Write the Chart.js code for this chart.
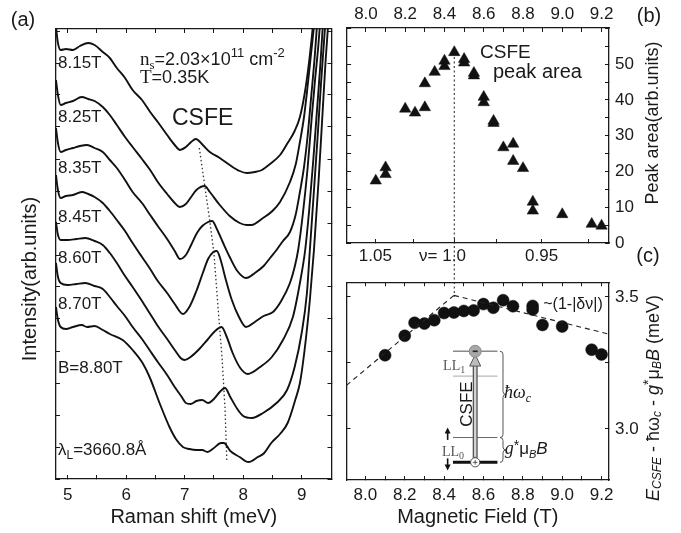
<!DOCTYPE html>
<html>
<head>
<meta charset="utf-8">
<script src="https://cdn.jsdelivr.net/npm/chart.js@4.4.1/dist/chart.umd.min.js"></script>
<style>
  body { margin: 0; background: #fff; }
  #wrap { position: relative; width: 681px; height: 533px; overflow: hidden; background: #fff; }
  canvas { position: absolute; }
  #cA { left: 0; top: 0; }
  #cB { left: 340px; top: 0; }
  #cC { left: 340px; top: 262px; }
</style>
</head>
<body>
<div id="wrap">
  <canvas id="cA" width="340" height="533"></canvas>
  <canvas id="cB" width="341" height="300"></canvas>
  <canvas id="cC" width="341" height="271"></canvas>
</div>
<script>
var FONT = "'Liberation Sans', Arial, sans-serif";
var SERIF = "'Liberation Serif', 'Times New Roman', serif";
var INK = '#1a1a1a';

// panel (a): Raman spectra, [Raman shift (meV), intensity (arb., offset)]
var fieldLabels = ['8.15T', '8.25T', '8.35T', '8.45T', '8.60T', '8.70T', 'B=8.80T'];
var spec815 = [[4.80,452],[4.83,437],[4.88,429],[4.97,430],[5.09,429],[5.21,433],[5.35,436],[5.46,434],[5.60,427],[5.72,421],[5.84,411],[5.98,401],[6.11,389],[6.27,379],[6.41,367],[6.54,357],[6.70,344],[6.83,334],[6.92,329],[7.02,332],[7.11,337],[7.19,340],[7.31,334],[7.43,327],[7.60,321],[7.77,314],[7.94,308],[8.06,306],[8.20,307],[8.32,309],[8.46,315],[8.63,324],[8.76,336],[8.88,348],[8.97,362],[9.05,385],[9.12,414],[9.17,440],[9.19,452]];
var spec825 = [[4.80,399],[4.83,385],[4.88,374],[4.97,376],[5.09,378],[5.24,382],[5.35,380],[5.46,378],[5.60,372],[5.72,364],[5.84,354],[5.98,342],[6.11,332],[6.27,320],[6.41,309],[6.54,297],[6.70,285],[6.83,276],[6.92,272],[7.02,275],[7.11,282],[7.20,289],[7.34,293],[7.43,287],[7.60,274],[7.77,263],[7.94,256],[8.06,254],[8.14,254],[8.34,261],[8.50,268],[8.63,277],[8.80,297],[8.90,315],[8.97,337],[9.04,362],[9.10,392],[9.16,425],[9.21,452]];
var spec835 = [[4.80,351],[4.83,337],[4.88,327],[4.97,329],[5.09,331],[5.21,333],[5.33,334],[5.46,331],[5.60,327],[5.72,319],[5.84,311],[5.98,299],[6.11,287],[6.27,276],[6.41,264],[6.54,253],[6.70,240],[6.83,228],[6.92,220],[7.02,224],[7.11,234],[7.21,246],[7.30,253],[7.40,257],[7.47,258],[7.55,250],[7.65,237],[7.77,222],[7.90,208],[8.05,201],[8.20,206],[8.35,213],[8.46,221],[8.57,229],[8.68,238],[8.80,247],[8.90,265],[8.97,287],[9.04,312],[9.10,342],[9.17,387],[9.22,420],[9.26,452]];
var spec845 = [[4.80,304],[4.83,290],[4.88,281],[4.97,283],[5.09,284],[5.24,287],[5.35,285],[5.46,282],[5.60,276],[5.72,268],[5.84,259],[5.98,248],[6.11,236],[6.27,222],[6.41,210],[6.54,198],[6.70,186],[6.83,175],[6.97,165],[7.08,172],[7.20,188],[7.31,206],[7.40,220],[7.49,227],[7.55,228],[7.62,218],[7.70,200],[7.80,180],[7.92,163],[8.05,152],[8.20,157],[8.35,163],[8.51,167],[8.65,178],[8.80,196],[8.88,212],[8.94,229],[9.02,265],[9.10,310],[9.17,360],[9.23,400],[9.28,430],[9.31,452]];
var spec860 = [[4.80,257],[4.83,245],[4.88,239],[5.00,239],[5.15,240],[5.30,241],[5.46,238],[5.60,234],[5.72,226],[5.84,216],[5.98,203],[6.11,192],[6.27,178],[6.41,165],[6.54,153],[6.70,140],[6.83,129],[6.93,121],[7.00,119],[7.10,122],[7.25,130],[7.40,140],[7.52,148],[7.63,152],[7.72,142],[7.82,126],[7.95,111],[8.08,105],[8.29,112],[8.49,122],[8.68,139],[8.85,162],[8.97,196],[9.06,229],[9.13,270],[9.20,320],[9.27,375],[9.32,415],[9.36,452]];
var spec870 = [[4.80,216],[4.83,203],[4.88,196],[5.00,194],[5.15,195],[5.30,196],[5.46,193],[5.60,190],[5.72,182],[5.84,173],[5.98,163],[6.11,152],[6.27,140],[6.41,128],[6.54,117],[6.70,104],[6.83,92],[6.95,82],[7.02,76],[7.10,75],[7.20,78],[7.30,79],[7.40,76],[7.50,80],[7.60,87],[7.69,91],[7.78,82],[7.90,70],[8.00,63],[8.15,61],[8.34,66],[8.57,76],[8.75,89],[8.88,112],[9.00,146],[9.09,186],[9.14,229],[9.20,280],[9.27,340],[9.33,395],[9.40,452]];
var spec880 = [[4.80,172],[4.83,160],[4.88,152],[4.97,150],[5.09,152],[5.24,154],[5.33,152],[5.46,153],[5.60,149],[5.72,145],[5.94,139],[6.11,129],[6.28,116],[6.40,102],[6.57,76],[6.74,52],[6.85,40],[6.97,32],[7.08,30],[7.20,29],[7.30,29],[7.39,27],[7.50,31],[7.62,36],[7.67,36],[7.78,28],[7.94,22],[8.09,17],[8.25,22],[8.36,26],[8.48,36],[8.63,45],[8.76,56],[8.89,79],[8.97,96],[9.05,129],[9.14,179],[9.21,229],[9.29,299],[9.36,369],[9.41,419],[9.45,452]];
var csfeTrack = [[7.25,331],[7.42,262],[7.50,226],[7.57,172],[7.64,120],[7.69,70],[7.72,19]];
var shiftTicks = [5, 5.5, 6, 6.5, 7, 7.5, 8, 8.5, 9];
var intensityTicks = [0, 32, 64, 96, 128, 160, 192, 224, 256, 288, 320, 352, 384, 416, 448];

// panel (b): CSFE peak area vs magnetic field
var fieldB = [8.05, 8.10, 8.10, 8.20, 8.25, 8.30, 8.30, 8.35, 8.40, 8.40, 8.45, 8.50, 8.50, 8.55, 8.55, 8.60, 8.60, 8.65, 8.65, 8.70, 8.75, 8.75, 8.80, 8.85, 8.85, 9.00, 9.15, 9.20];
var areaB = [17.4, 19.2, 21.1, 37.5, 36.4, 37.9, 44.6, 47.8, 49.4, 50.9, 53.3, 50.4, 51.4, 46.8, 47.5, 40.8, 39.3, 34.1, 33.5, 26.7, 27.7, 22.9, 20.9, 11.5, 9.0, 8.0, 5.3, 4.8];
var fieldTicks = [8.0, 8.1, 8.2, 8.3, 8.4, 8.5, 8.6, 8.7, 8.8, 8.9, 9.0, 9.1, 9.2];
var areaTicks = [0, 5, 10, 15, 20, 25, 30, 35, 40, 45, 50, 55, 60];
var nuTicks = [1.05, 1.025, 1.0, 0.975, 0.95, 0.925];
var nuLabels = ['1.05', '', '\u03bd= 1.0     ', '', '0.95', ''];
var nuOneField = 8.45;

// panel (c): E_CSFE - hw_c - g*muB*B vs field
var fieldC = [8.10, 8.20, 8.25, 8.30, 8.35, 8.40, 8.45, 8.50, 8.55, 8.60, 8.65, 8.70, 8.75, 8.85, 8.85, 8.90, 9.00, 9.15, 9.20];
var energyC = [3.279, 3.353, 3.402, 3.399, 3.412, 3.439, 3.441, 3.447, 3.449, 3.473, 3.459, 3.488, 3.465, 3.466, 3.452, 3.394, 3.388, 3.300, 3.282];
var energyTicks = [3.0, 3.25, 3.5];
var fitLeft = [[7.904, 3.165], [8.45, 3.506]];
var fitRight = [[8.45, 3.506], [9.238, 3.359]];

function xy(pts) { return pts.map(function (p) { return {x: p[0], y: p[1]}; }); }
function zip(a, b) { return a.map(function (v, i) { return {x: v, y: b[i]}; }); }

function axis(pos, min, max, vals, fmt, size, o) {
  o = o || {};
  return {
    type: 'linear', position: pos, min: min, max: max,
    afterBuildTicks: function (s) { s.ticks = vals.map(function (v) { return {value: v}; }); },
    afterFit: function (s) { if (s.isHorizontal()) { s.height = size; } else { s.width = size; } },
    grid: { drawOnChartArea: false, drawTicks: true, tickLength: -4, tickColor: INK, tickWidth: 1 },
    border: { display: true, color: INK, width: 1.3 },
    ticks: {
      display: !!fmt,
      callback: fmt || function () { return ''; },
      color: INK, font: { family: FONT, size: 17 }, padding: o.pad || 10,
      maxRotation: 0, minRotation: 0, autoSkip: false
    },
    title: o.title ? { display: true, text: o.title, color: INK, font: { family: FONT, size: 20 }, padding: { top: 0, bottom: 4 } } : { display: false }
  };
}

function runsWidth(ctx, runs) {
  var w = 0;
  runs.forEach(function (r) { ctx.font = r[1]; w += ctx.measureText(r[0]).width; });
  return w;
}
function drawRuns(ctx, x, y, runs) {
  runs.forEach(function (r) {
    ctx.font = r[1];
    ctx.fillText(r[0], x, y + (r[2] || 0));
    x += ctx.measureText(r[0]).width;
  });
}
function vText(ctx, cx, cy, runs) {
  ctx.save();
  ctx.translate(cx, cy);
  ctx.rotate(-Math.PI / 2);
  ctx.textBaseline = 'middle';
  ctx.textAlign = 'left';
  drawRuns(ctx, -runsWidth(ctx, runs) / 2, 0, runs);
  ctx.restore();
}
function sans(px, st) { return (st ? st + ' ' : '') + px + 'px ' + FONT; }
function serif(px, st) { return (st ? st + ' ' : '') + px + 'px ' + SERIF; }

var base = { responsive: false, animation: false, devicePixelRatio: 1,
  plugins: { legend: { display: false }, tooltip: { enabled: false } } };

// ---------- panel (a)
var textA = {
  id: 'textA',
  afterDraw: function (chart) {
    var ctx = chart.ctx;
    ctx.save();
    ctx.fillStyle = INK;
    ctx.textAlign = 'left';
    ctx.textBaseline = 'alphabetic';
    var lab = [68, 122, 173, 222, 263, 309, 373];
    ctx.font = sans(17);
    fieldLabels.forEach(function (t, i) { ctx.fillText(t, 58, lab[i]); });
    drawRuns(ctx, 58, 455, [['\u03bb', sans(17)], ['L', sans(12), 4], ['=3660.8\u00c5', sans(17)]]);
    drawRuns(ctx, 140, 65, [['n', serif(19)], ['s', serif(13), 4], ['=2.03\u00d710', sans(18)], ['11', sans(13), -8], [' cm', sans(18)], ['-2', sans(13), -8]]);
    drawRuns(ctx, 140, 83, [['T', serif(19)], ['=0.35K', sans(18)]]);
    ctx.font = sans(23);
    ctx.fillText('CSFE', 172, 125);
    ctx.textAlign = 'center';
    ctx.textBaseline = 'middle';
    ctx.font = sans(20);
    ctx.fillText('(a)', 23, 20);
    vText(ctx, 30, 279, [['Intensity(arb.units)', sans(20)]]);
    ctx.restore();
  }
};

var specSets = [spec815, spec825, spec835, spec845, spec860, spec870, spec880].map(function (s) {
  return { data: xy(s), showLine: true, borderColor: '#111', borderWidth: 1.9, pointRadius: 0,
    cubicInterpolationMode: 'monotone' };
});
specSets.push({ data: xy(csfeTrack), showLine: true, borderColor: '#333', borderWidth: 1.3,
  borderDash: [1.5, 2.5], pointRadius: 0 });

new Chart(document.getElementById('cA'), {
  type: 'scatter',
  data: { datasets: specSets },
  options: Object.assign({}, base, {
    layout: { padding: { top: 29, right: 8.5, left: 0, bottom: 0 } },
    scales: {
      x: axis('bottom', 4.8, 9.51, shiftTicks, function (v) {
        return Math.abs(v - Math.round(v)) < 1e-6 ? String(v) : '';
      }, 54, { pad: 10, title: 'Raman shift (meV)' }),
      xt: axis('top', 4.8, 9.51, shiftTicks, null, 0),
      y: axis('left', 0, 450, intensityTicks, null, 56),
      yr: axis('right', 0, 450, intensityTicks, null, 0)
    }
  }),
  plugins: [textA]
});

// ---------- panel (b)
var textB = {
  id: 'textB',
  afterDraw: function (chart) {
    var ctx = chart.ctx;
    ctx.save();
    ctx.fillStyle = INK;
    ctx.textAlign = 'left';
    ctx.textBaseline = 'alphabetic';
    ctx.font = sans(19);
    ctx.fillText('CSFE', 140, 58);
    ctx.font = sans(20);
    ctx.fillText('peak area', 153, 78);
    ctx.textAlign = 'center';
    ctx.textBaseline = 'middle';
    ctx.fillText('(b)', 309, 16);
    ctx.fillText('(c)', 308, 256);
    vText(ctx, 313, 123, [['Peak area(arb.units)', sans(18)]]);
    ctx.restore();
  }
};

new Chart(document.getElementById('cB'), {
  type: 'scatter',
  data: { datasets: [
    { data: zip(fieldB, areaB), pointStyle: 'triangle', pointRadius: 6.6,
      backgroundColor: '#111', borderColor: '#111', borderWidth: 0.5 },
    { data: [{x: nuOneField, y: 52}, {x: nuOneField, y: -15}], showLine: true, clip: false,
      borderColor: '#333', borderWidth: 1.1, borderDash: [2, 2.5], pointRadius: 0 }
  ] },
  options: Object.assign({}, base, {
    layout: { padding: { top: 0, right: 0, left: 6, bottom: 0 } },
    scales: {
      x: axis('top', 7.904, 9.238, fieldTicks, function (v) {
        var k = Math.round(v * 10); return k % 2 === 0 ? (k / 10).toFixed(1) : '';
      }, 28, { pad: 7 }),
      xnu: axis('bottom', 7.904, 9.238, nuTicks.map(function (n) { return nuOneField / n; }), function (v, i) {
        return nuLabels[i];
      }, 57, { pad: 7 }),
      y: axis('right', 0, 60.1, areaTicks, function (v) {
        return v % 10 === 0 && v <= 50 ? String(v) : '';
      }, 72, { pad: 10 }),
      yl: axis('left', 0, 60.1, areaTicks, null, 0)
    }
  }),
  plugins: [textB]
});

// ---------- panel (c)
function hline(ctx, x1, x2, y, col, w) {
  ctx.strokeStyle = col; ctx.lineWidth = w;
  ctx.beginPath(); ctx.moveTo(x1, y); ctx.lineTo(x2, y); ctx.stroke();
}
function brace(ctx, x, y1, y2, w) {
  var ym = (y1 + y2) / 2;
  ctx.beginPath();
  ctx.moveTo(x, y1);
  ctx.quadraticCurveTo(x + w, y1, x + w, y1 + w);
  ctx.lineTo(x + w, ym - w);
  ctx.quadraticCurveTo(x + w, ym, x + 2 * w, ym);
  ctx.quadraticCurveTo(x + w, ym, x + w, ym + w);
  ctx.lineTo(x + w, y2 - w);
  ctx.quadraticCurveTo(x + w, y2, x, y2);
  ctx.stroke();
}
function spin(ctx, x, yFrom, yTip) {
  var d = yTip < yFrom ? 1 : -1;
  ctx.strokeStyle = '#111'; ctx.fillStyle = '#111'; ctx.lineWidth = 1.6;
  ctx.beginPath(); ctx.moveTo(x, yFrom); ctx.lineTo(x, yTip + 4 * d); ctx.stroke();
  ctx.beginPath(); ctx.moveTo(x, yTip); ctx.lineTo(x - 3, yTip + 6 * d); ctx.lineTo(x + 3, yTip + 6 * d);
  ctx.closePath(); ctx.fill();
}

var insetC = {
  id: 'insetC',
  afterDraw: function (chart) {
    var ctx = chart.ctx, sx = chart.scales.x, sy = chart.scales.y;
    function px(b) { return sx.getPixelForValue(b); }
    function py(e) { return sy.getPixelForValue(e); }
    ctx.save();
    var xa = px(8.445), xb = px(8.671);
    hline(ctx, xa, xb, py(3.294), '#8a8a8a', 1.4);
    hline(ctx, xa, xb, py(3.200), '#b8b8b8', 1.4);
    hline(ctx, xa, xb, py(2.967), '#6a6a6a', 1);
    hline(ctx, xa, xb, py(2.873), '#111', 3);

    // CSFE transition arrow
    var ax = px(8.558), y0 = py(2.890), yh = py(3.238), yt = py(3.281);
    ctx.strokeStyle = '#555'; ctx.lineWidth = 5;
    ctx.beginPath(); ctx.moveTo(ax, y0); ctx.lineTo(ax, yh); ctx.stroke();
    ctx.strokeStyle = '#d2d2d2'; ctx.lineWidth = 2.4;
    ctx.beginPath(); ctx.moveTo(ax, y0 - 1); ctx.lineTo(ax, yh - 1); ctx.stroke();
    ctx.beginPath(); ctx.moveTo(ax, yt); ctx.lineTo(ax - 5.5, yh); ctx.lineTo(ax + 5.5, yh); ctx.closePath();
    ctx.fillStyle = '#bcbcbc'; ctx.fill();
    ctx.strokeStyle = '#555'; ctx.lineWidth = 1; ctx.stroke();

    // electron (-) and hole (+)
    ctx.beginPath(); ctx.arc(ax, py(3.294), 6, 0, 2 * Math.PI);
    ctx.fillStyle = '#a8a8a8'; ctx.fill(); ctx.strokeStyle = '#8a8a8a'; ctx.stroke();
    hline(ctx, ax - 2.5, ax + 2.5, py(3.294), '#222', 1.6);
    ctx.beginPath(); ctx.arc(ax, py(2.873), 4.6, 0, 2 * Math.PI);
    ctx.fillStyle = '#fff'; ctx.fill(); ctx.strokeStyle = '#444'; ctx.lineWidth = 0.9; ctx.stroke();
    hline(ctx, ax - 2.3, ax + 2.3, py(2.873), '#444', 0.9);
    ctx.beginPath(); ctx.moveTo(ax, py(2.873) - 2.3); ctx.lineTo(ax, py(2.873) + 2.3); ctx.stroke();

    // spin arrows
    spin(ctx, px(8.418), py(2.958), py(3.005));
    spin(ctx, px(8.418), py(2.888), py(2.842));

    // braces
    ctx.strokeStyle = '#555'; ctx.lineWidth = 1;
    brace(ctx, px(8.684), py(3.294), py(2.967), 3);
    brace(ctx, px(8.684), py(2.967), py(2.873), 3);

    // labels
    ctx.fillStyle = INK;
    ctx.textAlign = 'left';
    ctx.textBaseline = 'alphabetic';
    drawRuns(ctx, px(8.705), py(3.118), [['\u0127\u03c9', serif(18, 'italic')], ['c', serif(12, 'italic'), 4]]);
    drawRuns(ctx, px(8.708), py(2.906), [['g', serif(18, 'italic')], ['*', sans(14), -4], ['\u03bc', sans(17)], ['B', sans(11, 'italic'), 4], ['B', sans(17, 'italic')]]);
    ctx.fillStyle = '#555';
    drawRuns(ctx, px(8.395), py(3.224), [['LL', serif(14)], ['1', serif(10), 3]]);
    drawRuns(ctx, px(8.389), py(2.898), [['LL', serif(14)], ['0', serif(10), 3]]);
    ctx.fillStyle = INK;
    vText(ctx, px(8.516), py(3.094), [['CSFE', sans(17)]]);
    ctx.font = sans(16);
    ctx.fillText('~(1-|\u03b4\u03bd|)', px(8.904), py(3.455));
    // right axis title
    vText(ctx, 314, 136, [['E', sans(18, 'italic')], ['CSFE', sans(12, 'italic'), 4], [' - \u0127\u03c9', sans(18)],
      ['c', sans(12, 'italic'), 4], [' - ', sans(18)], ['g', sans(18, 'italic')], ['*', sans(14), -5],
      ['\u03bc', sans(18)], ['B', sans(12, 'italic'), 4], ['B', sans(18, 'italic')], [' (meV)', sans(18)]]);
    ctx.restore();
  }
};

new Chart(document.getElementById('cC'), {
  type: 'scatter',
  data: { datasets: [
    { data: xy(fitLeft), showLine: true, borderColor: '#222', borderWidth: 1.1, borderDash: [5, 4], pointRadius: 0 },
    { data: xy(fitRight), showLine: true, borderColor: '#222', borderWidth: 1.1, borderDash: [5, 4], pointRadius: 0 },
    { data: zip(fieldC, energyC), pointStyle: 'circle', pointRadius: 6,
      backgroundColor: '#111', borderColor: '#111', borderWidth: 0.5 }
  ] },
  options: Object.assign({}, base, {
    layout: { padding: { top: 5.5, right: 0, left: 6, bottom: 0 } },
    scales: {
      x: axis('bottom', 7.904, 9.238, fieldTicks, function (v) {
        var k = Math.round(v * 10); return k % 2 === 0 ? (k / 10).toFixed(1) : '';
      }, 53, { pad: 9, title: 'Magnetic Field (T)' }),
      xt: axis('top', 7.904, 9.238, fieldTicks, null, 0),
      y: axis('right', 2.806, 3.556, energyTicks, function (v) {
        return Math.abs(v - 3.25) < 1e-6 ? '' : v.toFixed(1);
      }, 72, { pad: 10 }),
      yl: axis('left', 2.806, 3.556, energyTicks, null, 0)
    }
  }),
  plugins: [insetC]
});
</script>
</body>
</html>
